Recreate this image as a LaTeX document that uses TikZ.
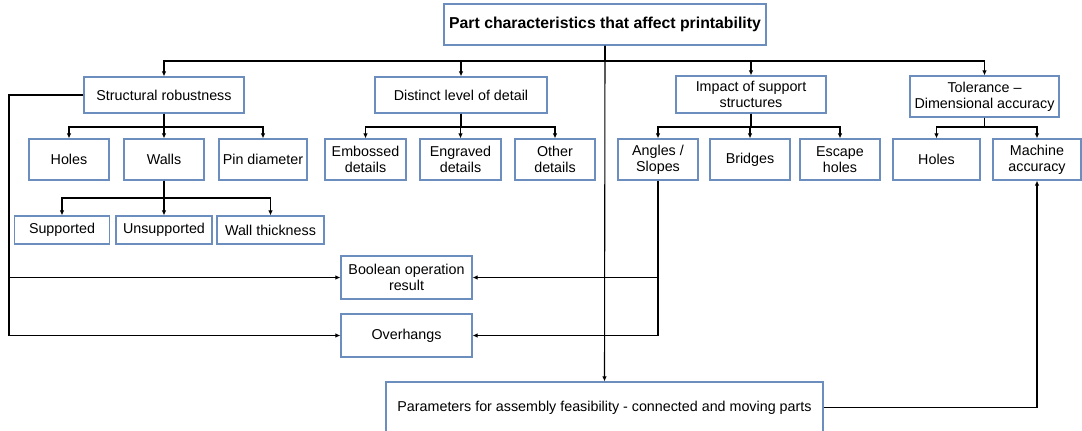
\documentclass[tikz,border=0pt]{standalone}
\usepackage{fontspec}
\setmainfont{Liberation Sans}
\usetikzlibrary{arrows.meta}
\definecolor{boxblue}{HTML}{6C8EBF}
\tikzset{
  box/.style={draw=boxblue,line width=1.2pt,fill=white,align=center,inner sep=2pt,
    font=\fontsize{14.3}{16}\selectfont},
  arr/.style={-{Latex[length=5pt,width=4.5pt]},line width=1.1pt},
  ln/.style={line width=1.1pt}
}
\begin{document}
\begin{tikzpicture}[x=1pt,y=-1pt]
  \useasboundingbox (0,0) rectangle (1082,431);
  % top and first level
  \node[box,minimum width=322,minimum height=41,font=\fontsize{15.8}{18}\selectfont\bfseries] (top) at (605,24.5) {Part characteristics that affect printability};
  \node[box,minimum width=160,minimum height=36] (sr) at (164,95) {Structural robustness};
  \node[box,minimum width=172,minimum height=36] (dl) at (461,95) {Distinct level of detail};
  \node[box,minimum width=150,minimum height=37] (is) at (751,94.5) {Impact of support\\structures};
  \node[box,minimum width=149,minimum height=41] (tol) at (984.5,96.5) {Tolerance –\\Dimensional accuracy};
  % second level
  \node[box,minimum width=80,minimum height=41] (holesA) at (69,159.5) {Holes};
  \node[box,minimum width=80,minimum height=41] (walls) at (164,159.5) {Walls};
  \node[box,minimum width=88,minimum height=41] (pin) at (263,159.5) {Pin diameter};
  \node[box,minimum width=81,minimum height=41] (emb) at (365.5,159.5) {Embossed\\details};
  \node[box,minimum width=81,minimum height=41] (engr) at (460.5,159.5) {Engraved\\details};
  \node[box,minimum width=80,minimum height=41] (other) at (555,159.5) {Other\\details};
  \node[box,minimum width=80,minimum height=41] (angles) at (658,159.5) {Angles /\\Slopes};
  \node[box,minimum width=80,minimum height=41] (bridges) at (750,159.5) {Bridges};
  \node[box,minimum width=80,minimum height=41] (escape) at (840,159.5) {Escape\\holes};
  \node[box,minimum width=87,minimum height=41] (holesB) at (936.5,159.5) {Holes};
  \node[box,minimum width=88,minimum height=41] (machine) at (1037,159.5) {Machine\\accuracy};
  % walls
  \node[box,minimum width=95,minimum height=28] (supp) at (62,230) {Supported};
  \node[box,minimum width=96,minimum height=28] (unsupp) at (164,230) {Unsupported};
  \node[box,minimum width=107,minimum height=28] (wallth) at (270.5,230) {Wall thickness};
  % lower boxes
  \node[box,minimum width=131,minimum height=43] (bool) at (406.5,277.5) {Boolean operation\\result};
  \node[box,minimum width=131,minimum height=43] (over) at (406.5,335.5) {Overhangs};
  \node[box,minimum width=437,minimum height=51] (param) at (604.5,407.5) {Parameters for assembly feasibility - connected and moving parts};
  % buses
  \coordinate (bus) at (605,61);
  \draw[ln] (top.south) -- (bus);
  \foreach \c in {sr,dl,is,tol}
    \draw[arr] (bus) -| (\c.north);
  \draw[arr] (top.south) -- (param.north);
  \foreach \p/\c in {sr/holesA,sr/walls,sr/pin,dl/emb,dl/engr,dl/other,is/angles,is/bridges,is/escape,tol/holesB,tol/machine}
    \draw[arr] (\p.south) -- (\p.south |- 0,127) -| (\c.north);
  \foreach \c in {supp,unsupp,wallth}
    \draw[arr] (walls.south) -- (walls.south |- 0,198) -| (\c.north);
  % side links
  \coordinate (lbend) at (9,0);
  \draw[arr] (sr.west) -| (lbend |- over.west) -- (over.west);
  \draw[arr] (lbend |- bool.west) -- (bool.west);
  \draw[arr] (angles.south) |- (over.east);
  \draw[arr] (angles.south |- bool.east) -- (bool.east);
  \draw[arr] (param.east) -| (machine.south);
\end{tikzpicture}
\end{document}
